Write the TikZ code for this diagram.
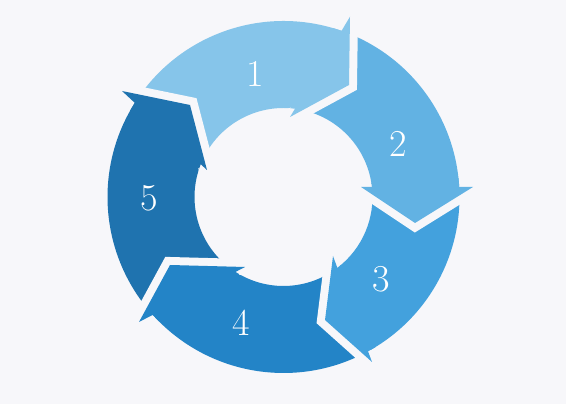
\documentclass[tikz,border=0pt]{standalone}
\definecolor{bgc}{RGB}{247,247,250}
\definecolor{cA}{RGB}{134,197,234}
\definecolor{cB}{RGB}{98,178,227}
\definecolor{cC}{RGB}{67,161,221}
\definecolor{cD}{RGB}{35,132,199}
\definecolor{cE}{RGB}{31,115,175}
\tikzset{
  gapband/.style={draw=bgc, line width=16, line join=miter, line cap=butt},
  lbl/.style={text=white, inner sep=0pt, font=\fontsize{38}{40}\selectfont}
}
\begin{document}
\begin{tikzpicture}[x=1pt,y=1pt]
\fill[bgc] (0,0) rectangle (566,404);
\useasboundingbox (0,0) rectangle (566,404);
\begin{scope}[shift={(283.5,207)}]
\def\Ro{176}\def\Ri{89}
% bodies
\fill[cA] (147.67:\Ro) arc[start angle=147.67, end angle=70.74, radius=\Ro] -- (82.6:\Ri) arc[start angle=82.6, end angle=158.4, radius=\Ri] -- cycle;
\fill[cB] (70.74:\Ro) arc[start angle=70.74, end angle=3.26, radius=\Ro] -- (6.45:\Ri) arc[start angle=6.45, end angle=82.6, radius=\Ri] -- cycle;
\fill[cC] (3.26:\Ro) arc[start angle=3.26, end angle=-61.28, radius=\Ro] -- (-52.76:\Ri) arc[start angle=-52.76, end angle=6.45, radius=\Ri] -- cycle;
\fill[cD] (-61.28:\Ro) arc[start angle=-61.28, end angle=-137.96, radius=\Ro] -- (-122.65:\Ri) arc[start angle=-122.65, end angle=-52.76, radius=\Ri] -- cycle;
\fill[cE] (-137.96:\Ro) arc[start angle=-137.96, end angle=-212.33, radius=\Ro] -- (-201.6:\Ri) arc[start angle=-201.6, end angle=-122.65, radius=\Ri] -- cycle;
% heads
\draw[gapband] (66.5,180.3) -- (65.5,112) -- (6.5,80);
\fill[cA] (73.74:\Ro) arc[start angle=73.74, end angle=70.74, radius=\Ro] -- (66.5,180.3) -- (65.5,112) -- (6.5,80) -- (82.6:\Ri) arc[start angle=82.6, end angle=85.6, radius=\Ri] -- cycle;
\draw[gapband] (189.5,10) -- (131.5,-26) -- (77.5,10);
\fill[cB] (6.26:\Ro) arc[start angle=6.26, end angle=3.26, radius=\Ro] -- (189.5,10) -- (131.5,-26) -- (77.5,10) -- (6.45:\Ri) arc[start angle=6.45, end angle=9.45, radius=\Ri] -- cycle;
\draw[gapband] (88.5,-165) -- (41.5,-123) -- (49.5,-59);
\fill[cC] (-58.28:\Ro) arc[start angle=-58.28, end angle=-61.28, radius=\Ro] -- (88.5,-165) -- (41.5,-123) -- (49.5,-59) -- (-52.76:\Ri) arc[start angle=-52.76, end angle=-49.76, radius=\Ri] -- cycle;
\draw[gapband] (-144.5,-125) -- (-113.5,-68) -- (-38.5,-70);
\fill[cD] (-134.96:\Ro) arc[start angle=-134.96, end angle=-137.96, radius=\Ro] -- (-144.5,-125) -- (-113.5,-68) -- (-38.5,-70) -- (-122.65:\Ri) arc[start angle=-122.65, end angle=-119.65, radius=\Ri] -- cycle;
\draw[gapband] (-161.5,106) -- (-93.5,92) -- (-76.5,27);
\fill[cE] (150.67:\Ro) arc[start angle=150.67, end angle=147.67, radius=\Ro] -- (-161.5,106) -- (-93.5,92) -- (-76.5,27) -- (158.4:\Ri) arc[start angle=158.4, end angle=161.4, radius=\Ri] -- cycle;
% labels
\node[lbl] (n1) at (-28.5,123) {1};
\node[lbl] (n2) at (114.5,53) {2};
\node[lbl] (n3) at (97.5,-82) {3};
\node[lbl] (n4) at (-42.5,-126) {4};
\node[lbl] (n5) at (-134.5,-1) {5};
\end{scope}
\end{tikzpicture}
\end{document}
